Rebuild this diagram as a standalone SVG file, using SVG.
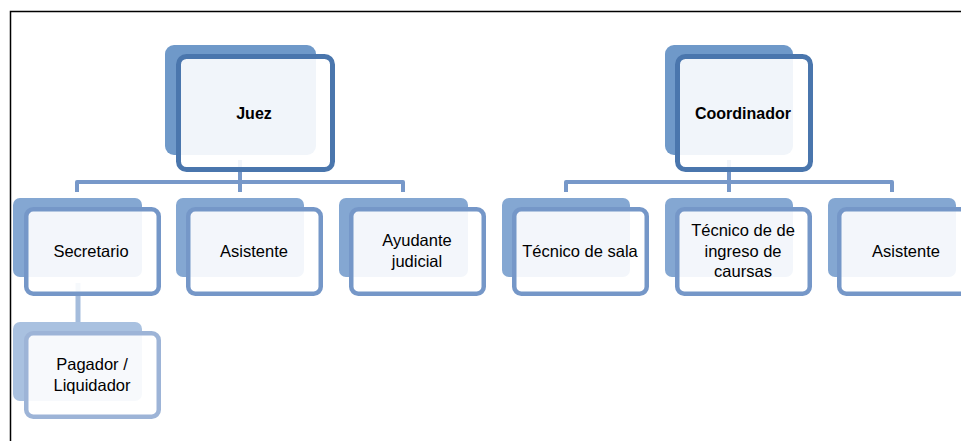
<svg xmlns="http://www.w3.org/2000/svg" width="961" height="441" viewBox="0 0 961 441">
  <style>
    .frame { fill: none; stroke: #000; stroke-width: 1.5; }
    .conn { fill: none; stroke: #7798c9; stroke-width: 4; stroke-linejoin: round; }
    .conn-sub { fill: none; stroke: #a4bcdc; stroke-width: 5; }
    .back-top { fill: #6f99c9; }
    .front-top { fill: #fff; fill-opacity: 0.9; stroke: #4a76ad; stroke-width: 5; }
    .back { fill: #84a7d2; }
    .front { fill: #fff; fill-opacity: 0.9; stroke: #7597c8; stroke-width: 4.5; }
    .back-sub { fill: #a9c1e0; }
    .front-sub { fill: #fff; fill-opacity: 0.9; stroke: #9db4d7; stroke-width: 4.5; }
    text { font-family: "Liberation Sans", Arial, sans-serif; font-size: 16.5px; fill: #000; text-anchor: middle; }
    .bold { font-weight: bold; font-size: 16px; }
  </style>

  <!-- page frame: top and left rule -->
  <path class="frame" d="M10.5 441 V11.5 H961"/>

  <g id="connectors">
    <path class="conn" d="M240 160 V182 M77 192 V182 H403 V192 M240 182 V192"/>
    <path class="conn" d="M729 160 V182 M566 192 V182 H892 V192 M729 182 V192"/>
    <path class="conn-sub" d="M78 283 V322"/>
  </g>

  <g id="juez">
    <rect class="back-top" x="165" y="45" width="151" height="110" rx="9"/>
    <rect class="front-top" x="178.5" y="56.5" width="154" height="113" rx="8"/>
    <text class="bold" x="254" y="119">Juez</text>
  </g>

  <g id="coordinador">
    <rect class="back-top" x="665" y="45" width="128" height="110" rx="9"/>
    <rect class="front-top" x="677.5" y="56.5" width="133" height="113" rx="8"/>
    <text class="bold" x="743" y="119">Coordinador</text>
  </g>

  <g id="secretario">
    <rect class="back" x="13" y="198" width="129" height="79" rx="7"/>
    <rect class="front" x="26.25" y="209.25" width="132.5" height="84.5" rx="7"/>
    <text x="91" y="257">Secretario</text>
  </g>

  <g id="asistente-juez">
    <rect class="back" x="176" y="198" width="128" height="79" rx="7"/>
    <rect class="front" x="188.25" y="209.25" width="132.5" height="84.5" rx="7"/>
    <text x="254" y="257">Asistente</text>
  </g>

  <g id="ayudante-judicial">
    <rect class="back" x="339" y="198" width="129" height="79" rx="7"/>
    <rect class="front" x="351.25" y="209.25" width="132.5" height="84.5" rx="7"/>
    <text x="417" y="246">Ayudante</text>
    <text x="417" y="267">judicial</text>
  </g>

  <g id="pagador-liquidador">
    <rect class="back-sub" x="13" y="322" width="129" height="79" rx="7"/>
    <rect class="front-sub" x="26.25" y="333.25" width="132.5" height="83.5" rx="7"/>
    <text x="92" y="370">Pagador /</text>
    <text x="92" y="391">Liquidador</text>
  </g>

  <g id="tecnico-sala">
    <rect class="back" x="502" y="198" width="128" height="79" rx="7"/>
    <rect class="front" x="514.25" y="209.25" width="132.5" height="84.5" rx="7"/>
    <text x="580" y="257">Técnico de sala</text>
  </g>

  <g id="tecnico-ingreso">
    <rect class="back" x="665" y="198" width="128" height="79" rx="7"/>
    <rect class="front" x="677.25" y="209.25" width="132.5" height="84.5" rx="7"/>
    <text x="743" y="236">Técnico de de</text>
    <text x="743" y="257">ingreso de</text>
    <text x="743" y="277">caursas</text>
  </g>

  <g id="asistente-coordinador">
    <rect class="back" x="828" y="198" width="128" height="79" rx="7"/>
    <rect class="front" x="839.25" y="209.25" width="132.5" height="84.5" rx="7"/>
    <text x="906" y="257">Asistente</text>
  </g>
</svg>
